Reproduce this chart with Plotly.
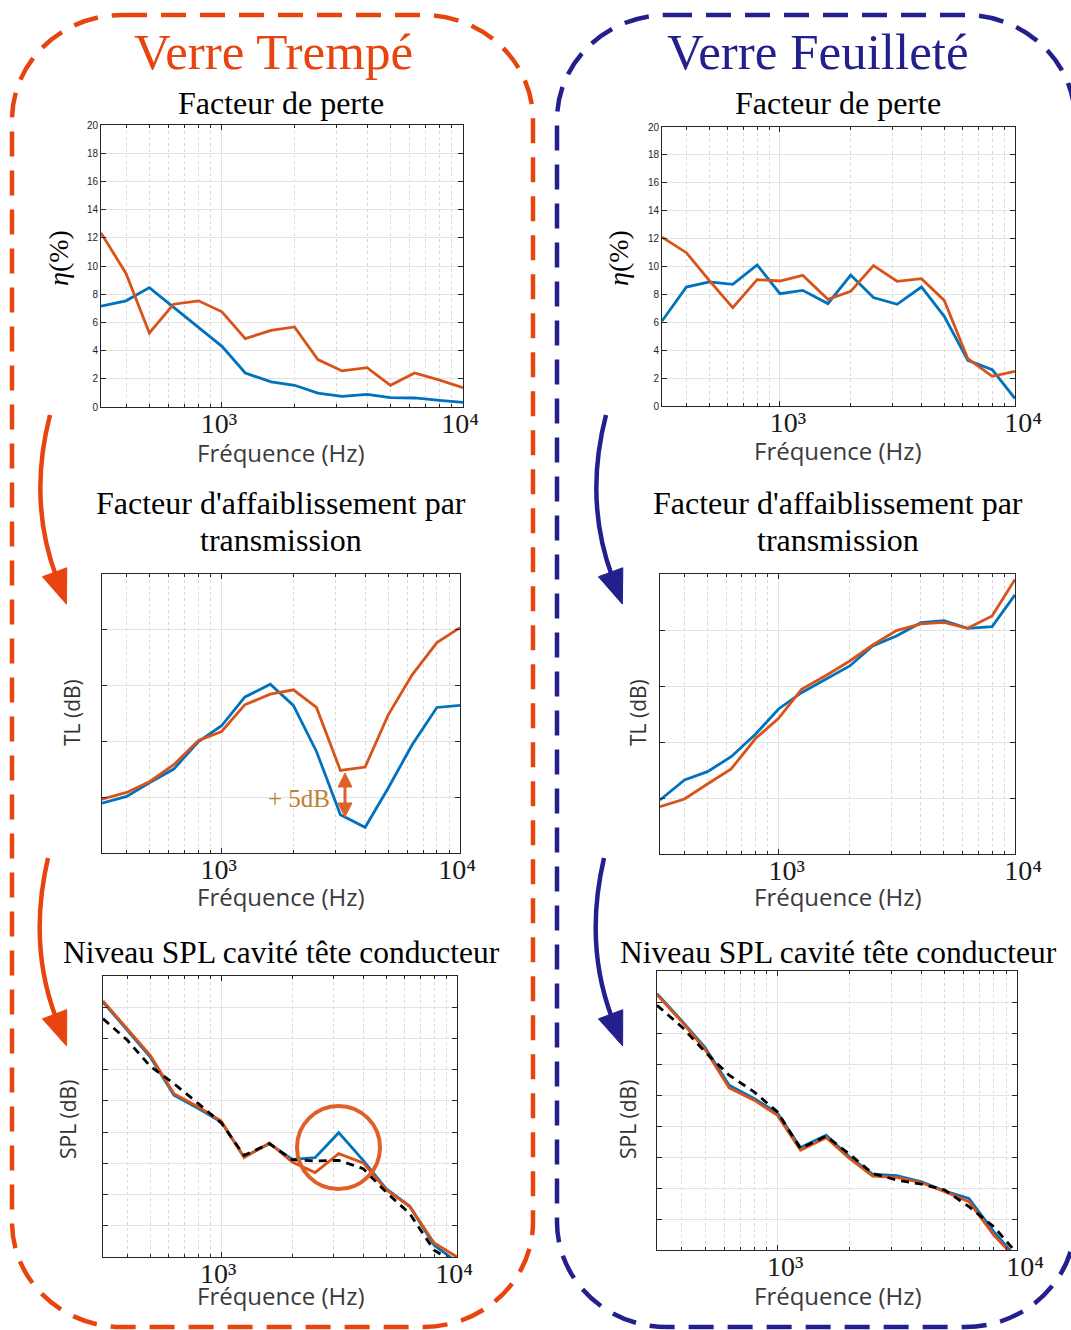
import math
import plotly.graph_objects as go

W, H = 1071, 1330

# ---------------- data ----------------
freq_hz = [315, 400, 500, 630, 800, 1000, 1250, 1600, 2000, 2500, 3150, 4000, 5000, 6300, 8000, 10000]
x_tick_vals = [1000, 10000]
x_tick_text = ["10³", "10⁴"]
x_minor_vals = [400, 500, 600, 700, 800, 900, 2000, 3000, 4000, 5000, 6000, 7000, 8000, 9000]
eta_ticks = [0, 2, 4, 6, 8, 10, 12, 14, 16, 18, 20]
tl_grid = [25, 30, 35, 40]
spl_grid = [35, 40, 45, 50, 55, 60, 65, 70]

# Verre trempé - facteur de perte (%)
eta_trempe_blue = [7.15, 7.53, 8.47, 7.1, 5.68, 4.3, 2.41, 1.78, 1.54, 0.99, 0.76, 0.9, 0.66, 0.64, 0.47, 0.33]
eta_trempe_orange = [12.35, 9.47, 5.25, 7.29, 7.53, 6.75, 4.85, 5.44, 5.68, 3.36, 2.56, 2.79, 1.54, 2.41, 1.9, 1.37]
# Verre feuilleté - facteur de perte (%)
eta_feuil_blue = [6.09, 8.53, 8.89, 8.72, 10.11, 8.05, 8.29, 7.34, 9.39, 7.77, 7.29, 8.53, 6.43, 3.27, 2.6, 0.53]
eta_feuil_orange = [12.11, 10.99, 9.0, 7.05, 9.06, 8.96, 9.37, 7.65, 8.22, 10.06, 8.94, 9.13, 7.57, 3.39, 2.13, 2.49]
# Transmission loss (dB)
tl_trempe_blue = [24.47, 25.07, 26.32, 27.52, 29.99, 31.4, 33.96, 35.13, 33.22, 29.1, 23.43, 22.3, 25.82, 29.7, 33.04, 33.22]
tl_trempe_orange = [24.83, 25.43, 26.41, 27.91, 30.08, 30.89, 33.28, 34.23, 34.62, 33.04, 27.4, 27.7, 32.38, 35.96, 38.85, 40.2]
tl_feuil_blue = [24.82, 26.61, 27.35, 28.69, 30.71, 32.95, 34.4, 35.68, 36.79, 38.57, 39.46, 40.65, 40.83, 40.15, 40.3, 43.13]
tl_feuil_orange = [24.23, 24.91, 26.25, 27.59, 30.33, 32.11, 34.7, 35.98, 37.23, 38.66, 39.94, 40.54, 40.68, 40.15, 41.25, 44.52]
# SPL cavité tête conducteur (dB)
spl_trempe_blue = [70.84, 66.3, 62.03, 55.9, 53.76, 51.62, 46.02, 48.15, 45.64, 45.91, 49.91, 45.48, 40.94, 38.12, 31.87, 29.2]
spl_trempe_orange = [71.0, 66.57, 62.3, 56.16, 54.03, 51.78, 45.91, 48.26, 45.22, 43.51, 46.55, 45.06, 40.78, 38.12, 32.24, 30.0]
spl_trempe_ref = [68.17, 64.7, 60.54, 57.76, 54.56, 51.46, 46.28, 48.15, 45.59, 45.38, 45.48, 44.15, 40.41, 36.94, 31.07, 28.9]
spl_feuil_blue = [71.35, 66.95, 62.65, 56.58, 54.44, 52.13, 46.54, 48.53, 45.04, 42.24, 41.98, 41.01, 39.51, 38.32, 32.95, 28.66]
spl_feuil_orange = [71.19, 66.79, 62.33, 56.15, 54.17, 51.75, 46.11, 48.1, 44.77, 41.92, 41.71, 40.85, 39.4, 37.79, 32.42, 28.4]
spl_feuil_ref = [69.47, 65.98, 61.95, 58.2, 55.51, 52.29, 46.38, 48.37, 45.47, 42.35, 41.28, 40.63, 39.67, 36.98, 33.76, 29.46]

# ---------------- styles ----------------
BLUE = "#0072BD"
ORANGE = "#D95319"
BOX_ORANGE = "#E8440F"
NAVY = "#231F8C"
AXIS = "#262626"
SERIF = "Liberation Serif"
SANS = "Open Sans"


def X(x):
    return x / W


def Y(y):
    return 1 - y / H


panels = [
    dict(dom=(101, 463, 125, 407), yr=[0, 20], yt=eta_ticks, ylab=True, shift=-3,
         series=[(eta_trempe_blue, BLUE, "solid"), (eta_trempe_orange, ORANGE, "solid")]),
    dict(dom=(662, 1015, 127, 406), yr=[0, 20], yt=eta_ticks, ylab=True, shift=8,
         series=[(eta_feuil_blue, BLUE, "solid"), (eta_feuil_orange, ORANGE, "solid")]),
    dict(dom=(102, 460, 574, 853), yr=[20, 45], yt=tl_grid, ylab=False, shift=-3,
         series=[(tl_trempe_blue, BLUE, "solid"), (tl_trempe_orange, ORANGE, "solid")]),
    dict(dom=(660, 1015, 574, 854), yr=[20, 45], yt=tl_grid, ylab=False, shift=8,
         series=[(tl_feuil_blue, BLUE, "solid"), (tl_feuil_orange, ORANGE, "solid")]),
    dict(dom=(103, 457, 976, 1257), yr=[30, 75], yt=spl_grid, ylab=False, shift=-3,
         series=[(spl_trempe_blue, BLUE, "solid"), (spl_trempe_orange, ORANGE, "solid"),
                 (spl_trempe_ref, "black", "8px,6px")]),
    dict(dom=(657, 1017, 971, 1250), yr=[30, 75], yt=spl_grid, ylab=False, shift=8,
         series=[(spl_feuil_blue, BLUE, "solid"), (spl_feuil_orange, ORANGE, "solid"),
                 (spl_feuil_ref, "black", "8px,6px")]),
]

fig = go.Figure()
layout_axes = {}
for i, p in enumerate(panels, start=1):
    x0, x1, y0, y1 = p["dom"]
    sfx = "" if i == 1 else str(i)
    for vals, col, dash in p["series"]:
        fig.add_trace(go.Scatter(x=freq_hz, y=vals, mode="lines",
                                 line=dict(color=col, width=2.8, dash=dash),
                                 xaxis="x" + sfx, yaxis="y" + sfx, showlegend=False,
                                 hoverinfo="skip"))
    layout_axes["xaxis" + sfx] = dict(
        domain=[X(x0), X(x1)], anchor="y" + sfx, type="log", automargin=False,
        range=[math.log10(freq_hz[0]), math.log10(freq_hz[-1])],
        tickmode="array", tickvals=x_tick_vals, ticktext=x_tick_text,
        tickfont=dict(family=SERIF, size=28, color="#1a1a1a"), ticklabelstandoff=-9,
        ticklabelshift=p["shift"],
        showline=True, linecolor=AXIS, linewidth=1, mirror="allticks",
        ticks="inside", ticklen=5, tickcolor=AXIS,
        showgrid=True, gridcolor="#E3E3E3", gridwidth=1,
        minor=dict(tickmode="array", tickvals=x_minor_vals, ticks="inside", ticklen=3,
                   tickcolor=AXIS, showgrid=True, gridcolor="#D8D8D8", griddash="dot",
                   gridwidth=1),
        zeroline=False, fixedrange=True,
    )
    layout_axes["yaxis" + sfx] = dict(
        domain=[Y(y1), Y(y0)], anchor="x" + sfx, range=p["yr"], automargin=False,
        tickmode="array", tickvals=p["yt"], showticklabels=p["ylab"],
        tickfont=dict(family="Liberation Sans", size=10, color=AXIS),
        showline=True, linecolor=AXIS, linewidth=1, mirror="allticks",
        ticks="inside", ticklen=5, tickcolor=AXIS,
        showgrid=True, gridcolor="#E3E3E3", gridwidth=1, zeroline=False, fixedrange=True,
    )

annotations = []


def text(x, y, s, size, family, color="black", angle=0):
    annotations.append(dict(x=X(x), y=Y(y), xref="paper", yref="paper", text=s,
                            showarrow=False, xanchor="center", yanchor="middle",
                            textangle=angle,
                            font=dict(family=family, size=size, color=color)))


# headers
text(273, 52, "Verre Trempé", 51, SERIF, BOX_ORANGE)
text(818, 52, "Verre Feuilleté", 51, SERIF, NAVY)
for cx in (281, 838):
    text(cx, 103, "Facteur de perte", 32, SERIF)
    text(cx, 503, "Facteur d'affaiblissement par", 32, SERIF)
    text(cx, 540, "transmission", 32, SERIF)
    text(cx, 952, "Niveau SPL cavité tête conducteur", 31.5, SERIF)
for cx, ys in ((281, (452, 896, 1295)), (838, (451, 896, 1295))):
    for yy in ys:
        text(cx, yy, "Fréquence (Hz)", 24, SANS, "#3a3a3a")
text(58, 258, "<i>η</i>(%)", 28, SERIF, "black", -90)
text(618, 258, "<i>η</i>(%)", 28, SERIF, "black", -90)
text(72, 713, "TL (dB)", 21, SANS, "#333333", -90)
text(638, 713, "TL (dB)", 21, SANS, "#333333", -90)
text(68, 1120, "SPL (dB)", 21, SANS, "#333333", -90)
text(628, 1120, "SPL (dB)", 21, SANS, "#333333", -90)
text(299, 798, "+ 5dB", 25, SERIF, "#C08034")

shapes = []

# double arrow (+5dB)
DA = "#E0602A"
shapes.append(dict(type="line", xref="paper", yref="paper", x0=X(345), x1=X(345),
                   y0=Y(784), y1=Y(806), line=dict(color=DA, width=3)))
for tip, base in ((773, 787), (817, 803)):
    shapes.append(dict(type="path", xref="paper", yref="paper",
                       path=f"M {X(345)},{Y(tip)} L {X(352)},{Y(base)} L {X(338)},{Y(base)} Z",
                       fillcolor=DA, line=dict(color=DA, width=1)))


def rounded_rect(x0, y0, x1, y1, rx, ry, color):
    k = 0.5523
    d = (f"M {X(x0 + rx)},{Y(y0)} L {X(x1 - rx)},{Y(y0)} "
         f"C {X(x1 - rx + k * rx)},{Y(y0)} {X(x1)},{Y(y0 + ry - k * ry)} {X(x1)},{Y(y0 + ry)} "
         f"L {X(x1)},{Y(y1 - ry)} "
         f"C {X(x1)},{Y(y1 - ry + k * ry)} {X(x1 - rx + k * rx)},{Y(y1)} {X(x1 - rx)},{Y(y1)} "
         f"L {X(x0 + rx)},{Y(y1)} "
         f"C {X(x0 + rx - k * rx)},{Y(y1)} {X(x0)},{Y(y1 - ry + k * ry)} {X(x0)},{Y(y1 - ry)} "
         f"L {X(x0)},{Y(y0 + ry)} "
         f"C {X(x0)},{Y(y0 + ry - k * ry)} {X(x0 + rx - k * rx)},{Y(y0)} {X(x0 + rx)},{Y(y0)}")
    shapes.append(dict(type="path", path=d, xref="paper", yref="paper",
                       line=dict(color=color, width=4.5, dash="25px,14px")))


rounded_rect(12, 15, 533, 1327, 110, 105, BOX_ORANGE)
rounded_rect(557, 15, 1075, 1327, 110, 105, NAVY)


def curved_arrow(start, ctrl, end, color, head_len=34, half=13):
    shapes.append(dict(type="path", xref="paper", yref="paper",
                       path=f"M {X(start[0])},{Y(start[1])} Q {X(ctrl[0])},{Y(ctrl[1])} {X(end[0])},{Y(end[1])}",
                       line=dict(color=color, width=4.5)))
    dx, dy = end[0] - ctrl[0], end[1] - ctrl[1]
    n = math.hypot(dx, dy)
    dx, dy = dx / n, dy / n
    bx, by = end[0] - 4 * dx, end[1] - 4 * dy
    tx, ty = bx + head_len * dx, by + head_len * dy
    nx, ny = -dy, dx
    p1 = (bx + half * nx, by + half * ny)
    p2 = (bx - half * nx, by - half * ny)
    shapes.append(dict(type="path", xref="paper", yref="paper",
                       path=f"M {X(tx)},{Y(ty)} L {X(p1[0])},{Y(p1[1])} L {X(p2[0])},{Y(p2[1])} Z",
                       fillcolor=color, line=dict(color=color, width=1)))


for off, col in ((0, BOX_ORANGE), (556, NAVY)):
    curved_arrow((50 + off, 415), (28 + off, 500), (56 + off, 576), col)
    curved_arrow((48 + off, 858), (28 + off, 944), (56 + off, 1018), col)

# circle highlighting the SPL peak
shapes.append(dict(type="circle", xref="paper", yref="paper",
                   x0=X(297), x1=X(380), y0=Y(1189), y1=Y(1106),
                   line=dict(color="#E0602A", width=4)))

fig.update_layout(
    width=W, height=H, margin=dict(l=0, r=0, t=0, b=0, autoexpand=False),
    paper_bgcolor="white", plot_bgcolor="white",
    showlegend=False, annotations=annotations, shapes=shapes,
    **layout_axes,
)

fig.write_html("out.html", config={"displayModeBar": False},
               post_script="document.body.style.margin='0';document.body.style.overflow='hidden';")
